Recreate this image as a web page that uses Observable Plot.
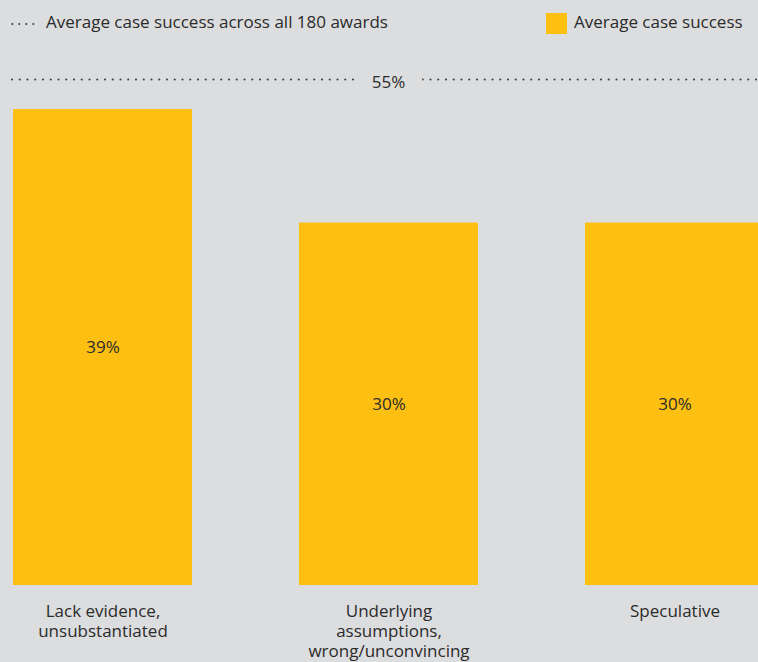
<!DOCTYPE html>
<html>
<head>
<meta charset="utf-8">
<script src="https://cdn.jsdelivr.net/npm/d3@7"></script>
<script src="https://cdn.jsdelivr.net/npm/@observablehq/plot@0.6"></script>
<style>
  html, body { margin: 0; padding: 0; background: #dcdddf; overflow: hidden; width: 758px; height: 662px; }
  #legend { position: relative; height: 46px; font-family: "Open Sans", sans-serif; font-size: 17px; color: #2b2b2b; line-height: 20px; }
  #legend span { position: absolute; white-space: nowrap; }
  #chart svg { display: block; }
</style>
</head>
<body>
<div id="legend">
  <svg style="position:absolute;left:10px;top:20px" width="28" height="8">
    <line x1="2.3" y1="4" x2="26" y2="4" stroke="#444" stroke-width="2.2" stroke-linecap="round" stroke-dasharray="0 7"></line>
  </svg>
  <span style="left:46px;top:12px">Average case success across all 180 awards</span>
  <div style="position:absolute;left:546px;top:13px;width:21px;height:21px;background:#fcbf12"></div>
  <span style="left:574px;top:12px">Average case success</span>
</div>
<div id="chart"></div>
<script>
const categories = ["Lack evidence, unsubstantiated", "Underlying assumptions, wrong/unconvincing", "Speculative"];
const tickLabels = ["Lack evidence,\nunsubstantiated", "Underlying\nassumptions,\nwrong/unconvincing", "Speculative"];
const successValues = [39.4, 30.0, 30.0];
const overallAverage = 55;

const bg = "#dcdddf";
const barColor = "#fcbf12";
const ink = "#2b2b2b";
const font = "'Open Sans', sans-serif";

const data = categories.map((c, i) => ({category: c, value: successValues[i], label: tickLabels[i]}));
const labelOf = new Map(data.map(d => [d.category, d.label]));

const xScale = {domain: categories, range: [12, 764], paddingInner: 0.375, paddingOuter: 0, axis: null};

// reference-line strip
const refPlot = Plot.plot({
  width: 758, height: 50,
  marginLeft: 12, marginRight: 0, marginTop: 0, marginBottom: 0,
  style: {background: bg, fontFamily: font, overflow: "visible"},
  x: xScale,
  y: {domain: [45, 65], range: [53, 13], axis: null},
  marks: [
    Plot.ruleY([overallAverage], {stroke: "#444", strokeWidth: 2.2, strokeLinecap: "round", strokeDasharray: "0 7.75"}),
    Plot.text([overallAverage], {
      x: () => categories[1], y: d => d, text: d => `${d}%`,
      fontSize: 17, fill: ink, stroke: bg, strokeWidth: 36, dy: 3
    })
  ]
});

const mainPlot = Plot.plot({
  width: 758, height: 566,
  marginLeft: 0, marginRight: 0, marginTop: 0, marginBottom: 77,
  style: {background: bg, fontFamily: font, overflow: "visible"},
  x: {...xScale, axis: null, label: null},
  y: {domain: [0, 40], range: [489, 489 - 40 * (476 / 39.4)], axis: null},
  marks: [
    Plot.barY(data, {x: "category", y: "value", fill: barColor}),
    Plot.text(data, {x: "category", y: d => d.value / 2, text: d => `${Math.round(d.value)}%`, fontSize: 17, fill: ink}),
    Plot.axisX({
      domain: categories, label: null, tickSize: 0, tickPadding: 17, fontSize: 17, lineHeight: 1.18,
      fill: ink, tickFormat: d => labelOf.get(d), textOverflow: null
    })
  ]
});

document.getElementById("chart").append(refPlot, mainPlot);
</script>
</body>
</html>
